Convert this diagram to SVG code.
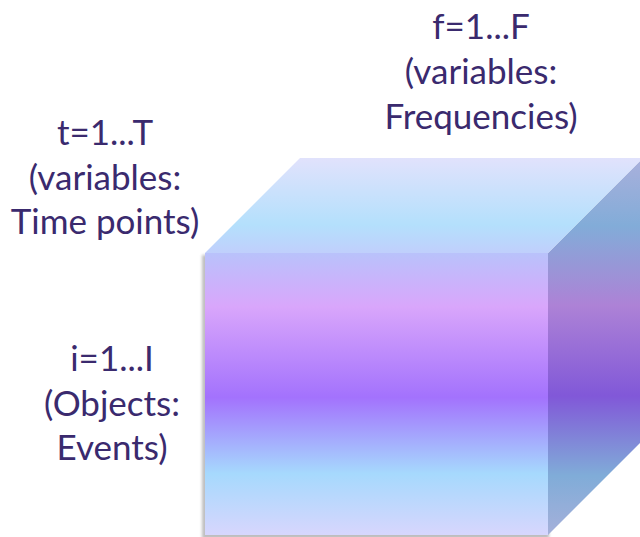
<svg xmlns="http://www.w3.org/2000/svg" width="640" height="537" viewBox="0 0 640 537">
  <defs>
    <linearGradient id="gFront" x1="0" y1="253" x2="0" y2="536" gradientUnits="userSpaceOnUse">
      <stop offset="0" stop-color="#b9c2fb"/>
      <stop offset="0.19" stop-color="#d9a6fb"/>
      <stop offset="0.51" stop-color="#a372fd"/>
      <stop offset="0.78" stop-color="#a6d9fd"/>
      <stop offset="1" stop-color="#d8d6fd"/>
    </linearGradient>
    <linearGradient id="gSide" x1="0" y1="158" x2="0" y2="536" gradientUnits="userSpaceOnUse">
      <stop offset="0" stop-color="#aab0dc"/>
      <stop offset="0.18" stop-color="#82acd8"/>
      <stop offset="0.39" stop-color="#ad82d6"/>
      <stop offset="0.63" stop-color="#8158d8"/>
      <stop offset="0.84" stop-color="#80acd8"/>
      <stop offset="1" stop-color="#a6b0da"/>
    </linearGradient>
    <linearGradient id="gTop" x1="0" y1="158" x2="0" y2="253" gradientUnits="userSpaceOnUse">
      <stop offset="0" stop-color="#e1e2fc"/>
      <stop offset="0.7" stop-color="#b4e0fc"/>
      <stop offset="1" stop-color="#c0cffc"/>
    </linearGradient>
    <filter id="shadow" x="-10%" y="-10%" width="120%" height="120%">
      <feGaussianBlur stdDeviation="1.5"/>
    </filter>
    <style>
      .lbl { font-family: "Lato", "Open Sans", sans-serif; font-size: 35px; fill: #3a2a6e; text-anchor: middle; }
    </style>
  </defs>

  <!-- data cube: objects × time points × frequencies -->
  <g id="cube">
    <rect x="202" y="255" width="347" height="284" fill="#8a8a8a" opacity="0.55" filter="url(#shadow)"/>
    <polygon points="548,253 643,158 643,440 548,535" fill="url(#gSide)"/>
    <polygon points="205,253 300,158 643,158 548,253" fill="url(#gTop)"/>
    <rect x="205" y="253" width="343" height="282" fill="url(#gFront)"/>
  </g>

  <g id="label-time">
    <text class="lbl" x="105" y="145">t=1...T</text>
    <text class="lbl" x="105" y="190">(variables:</text>
    <text class="lbl" x="105" y="234">Time points)</text>
  </g>

  <g id="label-freq">
    <text class="lbl" x="481" y="39">f=1...F</text>
    <text class="lbl" x="481" y="84">(variables:</text>
    <text class="lbl" x="481" y="129">Frequencies)</text>
  </g>

  <g id="label-objects">
    <text class="lbl" x="112" y="371">i=1...I</text>
    <text class="lbl" x="112" y="416">(Objects:</text>
    <text class="lbl" x="112" y="460">Events)</text>
  </g>
</svg>
